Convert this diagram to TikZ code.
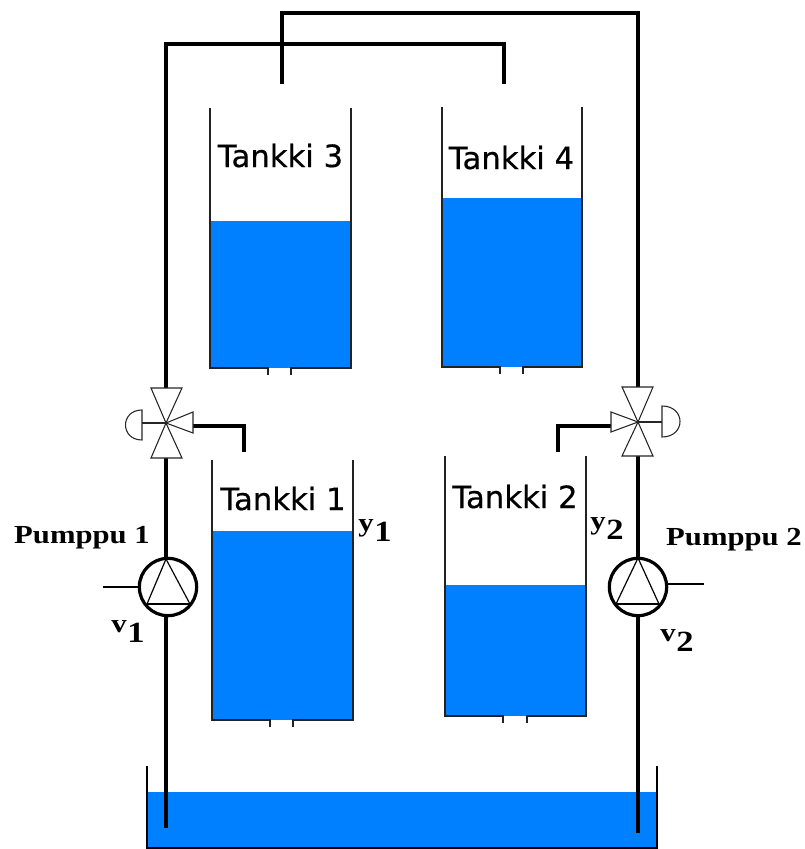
\documentclass[tikz,border=0pt]{standalone}
\usepackage{fontspec}
\setmainfont{DejaVu Sans}
\newfontfamily\tankFont[FakeBold=0.5]{DejaVu Sans}
\newfontfamily\pumpFont[FakeStretch=1.18]{Liberation Serif Bold}
\definecolor{waterBlue}{HTML}{007FFF}
\definecolor{wallGray}{HTML}{222222}
\newcommand{\subLabel}[2]{#1\raisebox{-8pt}{\fontsize{22}{23}\selectfont\kern0.5pt #2}}
\tikzset{
  water/.style={fill=waterBlue},
  tankWall/.style={draw=wallGray, line width=1.1pt},
  pipeLine/.style={draw=black, line width=2.7pt},
  thickPipe/.style={draw=black, line width=3.6pt},
  valvePart/.style={draw=black!85, line width=0.8pt, fill=white},
  tankLabel/.style={font=\tankFont\fontsize{23}{24}\selectfont, anchor=base, inner sep=0pt},
  pumpLabel/.style={font=\pumpFont\fontsize{19.5}{21}\selectfont, anchor=base, inner sep=0pt},
  signalLabel/.style={font=\pumpFont\fontsize{19.5}{21}\selectfont, anchor=base, inner sep=0pt},
  pumpBody/.style={circle, draw=black, line width=2.4pt, fill=white,
    minimum size=43pt, inner sep=0pt}
}
\begin{document}
\begin{tikzpicture}[x=0.75pt,y=-0.75pt]
  \useasboundingbox (0,0) rectangle (804,849);

  % tanks: left, right, top, bottom, water level, outlet
  \foreach \xl/\xr/\yt/\yb/\yw/\oa/\ob in {
    210/351/108/368/221/268/291,
    442/582/107/367/198/500/523,
    212/353/460/720/531/270/293,
    445/586/456/716/585/503/527}{
    \fill[water] (\xl,\yw) rectangle (\xr,\yb);
    \draw[tankWall] (\xl,\yt) -- (\xl,\yb) -- (\oa,\yb) -- (\oa,\yb+7);
    \draw[tankWall] (\xr,\yt) -- (\xr,\yb) -- (\ob,\yb) -- (\ob,\yb+7);
  }
  \node[tankLabel] (tank3) at (280.5,167) {Tankki 3};
  \node[tankLabel] (tank4) at (511.5,169) {Tankki 4};
  \node[tankLabel] (tank1) at (283,510) {Tankki 1};
  \node[tankLabel] (tank2) at (515,508) {Tankki 2};

  % reservoir
  \fill[water] (147,792) rectangle (657,848);
  \draw[black, line width=2.2pt] (147,766) -- (147,848) -- (657,848) -- (657,766);

  \coordinate (valveL) at (166,423);
  \coordinate (valveR) at (638,422);
  \coordinate (valveLtop) at (166,388);
  \coordinate (valveLbot) at (166,458);
  \coordinate (valveRtop) at (638,387);
  \coordinate (valveRbot) at (638,456);
  \coordinate (valveLside) at (193,426);
  \coordinate (valveRside) at (611,426);
  \coordinate (tank3in) at (282,84);
  \coordinate (tank4in) at (504,84);
  \coordinate (tank1in) at (244,452);
  \coordinate (tank2in) at (558,452);
  \coordinate (suctionL) at (166,828);
  \coordinate (suctionR) at (638,833);
  \coordinate (signalL) at (103,587);
  \coordinate (signalR) at (704,584);

  \node[pumpBody] (pump1) at (168,587) {};
  \node[pumpBody] (pump2) at (638,587) {};

  % pipes
  \draw[pipeLine] (valveLtop) -- (166,44) -- (504,44) -- (tank4in);
  \draw[pipeLine] (valveRtop) -- (638,13) -- (282,13) -- (tank3in);
  \draw[pipeLine] (valveLbot) -- (166,557);
  \draw[pipeLine] (valveRbot) -- (pump2.north);
  \draw[pipeLine] (166,617) -- (suctionL);
  \draw[pipeLine] (pump2.south) -- (suctionR);
  \draw[thickPipe] (valveLside) -- (244,426) -- (tank1in);
  \draw[thickPipe] (valveRside) -- (558,426) -- (tank2in);

  % pump symbols
  \draw[black, line width=0.9pt] (166,559) -- (147,604) (166,559) -- (190,604);
  \draw[black, line width=1.2pt] (147,604) -- (190,604);
  \draw[black, line width=0.9pt] (638,558) -- (616,604) (638,558) -- (659,604);
  \draw[black, line width=1.2pt] (616,604) -- (659,604);
  \draw[black, line width=1pt] (signalL) -- (pump1.west);
  \draw[black, line width=1pt] (signalR) -- (pump2.east |- signalR);

  % valves
  \draw[valvePart] (valveL) -- (151,388) -- (182,388) -- cycle;
  \draw[valvePart] (valveL) -- (151,458) -- (182,458) -- cycle;
  \draw[valvePart] (valveL) -- (193,412) -- (193,433) -- cycle;
  \draw[valvePart] (valveR) -- (622,387) -- (653,387) -- cycle;
  \draw[valvePart] (valveR) -- (622,456) -- (653,456) -- cycle;
  \draw[valvePart] (valveR) -- (611,412) -- (611,432) -- cycle;
  \draw[valvePart] (valveL) -- (142,423);
  \draw[valvePart] (142,410) .. controls (120,410) and (120,440) .. (142,440) -- cycle;
  \draw[valvePart] (valveR) -- (662,422);
  \draw[valvePart] (662,406) .. controls (686,406) and (686,437) .. (662,437) -- cycle;

  \node[pumpLabel] (pumpText1) at (82,543) {Pumppu 1};
  \node[pumpLabel] (pumpText2) at (734,545) {Pumppu 2};
  \node[signalLabel] (y1) at (375,531) {\subLabel{y}{1}};
  \node[signalLabel] (y2) at (607,529) {\subLabel{y}{2}};
  \node[signalLabel] (v1) at (128,632) {\subLabel{v}{1}};
  \node[signalLabel] (v2) at (677,641) {\subLabel{v}{2}};
\end{tikzpicture}
\end{document}
